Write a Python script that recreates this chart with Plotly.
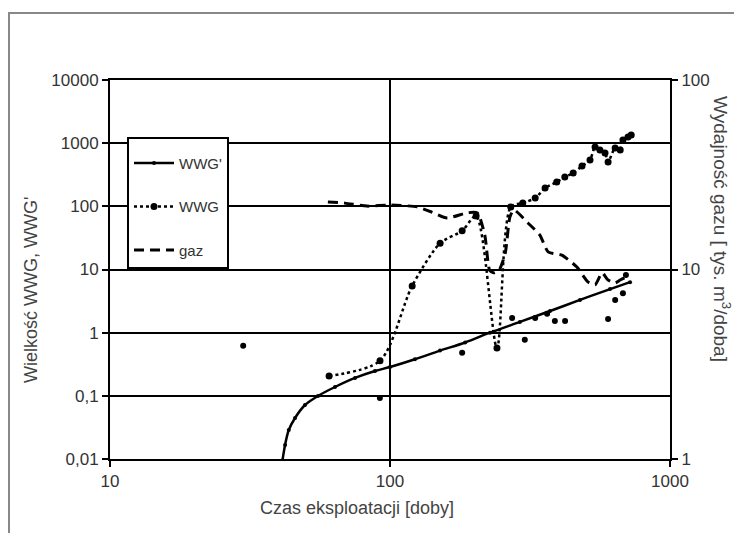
import plotly.graph_objects as go

# ---- data ----
wwgp_t = [41.3, 42.2, 43.5, 45.8, 49.7, 55.3, 63.6, 75.0, 88.4, 100, 122.7, 150.9, 185.5, 227.6, 291, 373, 477, 611, 720]
wwgp_v = [0.0095, 0.0167, 0.0288, 0.0446, 0.0716, 0.0995, 0.138, 0.192, 0.247, 0.286, 0.38, 0.52, 0.70, 1.0, 1.48, 2.2, 3.3, 4.9, 6.3]

wwg_t = [60.6, 92.1, 120, 151, 181, 203, 241, 270, 298, 330, 358, 394, 421, 451, 485, 518, 540, 562, 586, 601, 637, 664, 679, 708, 727]
wwg_v = [0.206, 0.36, 5.5, 26, 41, 70, 0.57, 98, 113, 135, 195, 243, 291, 337, 436, 542, 870, 780, 700, 504, 840, 780, 1120, 1250, 1346]

pts_t = [29.9, 92, 181, 273, 303, 330, 364, 388, 422, 601, 637, 679, 696]
pts_v = [0.62, 0.092, 0.48, 1.7, 0.77, 1.7, 2.0, 1.53, 1.53, 1.64, 3.3, 4.2, 8.2]

gaz_t = [60, 69, 82.8, 100, 125, 141, 160, 188, 205, 218, 227, 235, 245, 258, 268, 277, 311, 343, 367, 411, 465, 509, 540, 572, 601, 637, 664, 696]
gaz_v = [22.7, 22.4, 21.6, 21.9, 21.4, 20.1, 18.7, 19.9, 19.9, 15.2, 9.9, 9.6, 9.9, 12.2, 18.9, 20.6, 17.6, 15.2, 12.4, 11.9, 10.3, 8.6, 8.3, 9.6, 8.8, 8.5, 8.8, 9.1]

y_ticks = [0.01, 0.1, 1, 10, 100, 1000, 10000]
y_ticktext = ["0,01", "0,1", "1", "10", "100", "1000", "10000"]
y2_ticks = [1, 10, 100]
y2_ticktext = ["1", "10", "100"]
x_ticks = [10, 100, 1000]
x_ticktext = ["10", "100", "1000"]

FONT = "Liberation Sans, Arial, sans-serif"
TXT = "#333333"

# page has an 8px body margin: figure origin sits at page (8, 8)
OFF = 8
PL, PT, PW, PH = 110 - OFF, 80 - OFF, 560, 379   # plot area in figure pixels


def px(xp):   # page x pixel -> paper x
    return (xp - OFF - PL) / PW


def py(yp):   # page y pixel -> paper y
    return (PT + PH - (yp - OFF)) / PH


fig = go.Figure()

fig.add_trace(go.Scatter(
    x=wwgp_t, y=wwgp_v, name="WWG'", legendgroup="a",
    mode="lines+markers", line=dict(color="black", width=2.5, shape="spline"),
    marker=dict(color="black", size=4),
))
fig.add_trace(go.Scatter(
    x=wwg_t, y=wwg_v, name="WWG", legendgroup="b",
    mode="lines+markers", line=dict(color="black", width=2.5, dash="dot", shape="spline", smoothing=0.8),
    marker=dict(color="black", size=7),
))
fig.add_trace(go.Scatter(
    x=pts_t, y=pts_v, name="WWG (pkt)", legendgroup="b", showlegend=False,
    mode="markers", marker=dict(color="black", size=6),
))
fig.add_trace(go.Scatter(
    x=gaz_t, y=gaz_v, name="gaz", legendgroup="c", yaxis="y2",
    mode="lines", line=dict(color="black", width=3, dash="10px,6px", shape="spline", smoothing=0.6),
))

fig.update_layout(
    width=742 - OFF, height=533 - OFF,
    margin=dict(l=PL, r=742 - OFF - PL - PW, t=PT, b=533 - OFF - PT - PH),
    paper_bgcolor="white", plot_bgcolor="white",
    font=dict(family=FONT, color=TXT, size=16),
    xaxis=dict(
        type="log", range=[1, 3], tickvals=x_ticks, ticktext=x_ticktext,
        showgrid=True, gridcolor="black", gridwidth=2,
        showline=True, linecolor="black", linewidth=2, mirror=True,
        ticks="outside", ticklen=6, tickcolor="black", tickwidth=2,
        tickfont=dict(size=17, color=TXT), zeroline=False,
    ),
    yaxis=dict(
        type="log", range=[-2, 4], tickvals=y_ticks, ticktext=y_ticktext,
        showgrid=True, gridcolor="black", gridwidth=2,
        showline=True, linecolor="black", linewidth=2,
        ticks="outside", ticklen=6, tickcolor="black", tickwidth=2,
        tickfont=dict(size=17, color=TXT), zeroline=False,
    ),
    yaxis2=dict(
        type="log", range=[0, 2], tickvals=y2_ticks, ticktext=y2_ticktext,
        overlaying="y", side="right", showgrid=False,
        showline=True, linecolor="black", linewidth=2,
        ticks="outside", ticklen=6, tickcolor="black", tickwidth=2,
        tickfont=dict(size=17, color=TXT), zeroline=False,
    ),
    legend=dict(
        x=px(127), y=py(137), xanchor="left", yanchor="top",
        bgcolor="white", bordercolor="black", borderwidth=2,
        font=dict(family=FONT, size=15, color=TXT),
        tracegroupgap=21, traceorder="grouped", itemwidth=40,
        title=dict(text=" ", font=dict(size=6)),
    ),
    showlegend=True,
)

fig.add_annotation(text="Czas eksploatacji [doby]", xref="paper", yref="paper",
                   x=px(357), y=py(508), showarrow=False,
                   font=dict(size=18, color="#444444"), xanchor="center", yanchor="middle")
fig.add_annotation(text="Wielkość WWG, WWG'", xref="paper", yref="paper",
                   x=px(31), y=py(290), showarrow=False, textangle=-90,
                   font=dict(size=18, color="#444444"), xanchor="center", yanchor="middle")
fig.add_annotation(text="Wydajność gazu [ tys. m<sup>3</sup>/doba]", xref="paper", yref="paper",
                   x=px(722), y=py(229), showarrow=False, textangle=90,
                   font=dict(size=19, color="#444444"), xanchor="center", yanchor="middle")

# outer grey frame
fig.add_shape(type="rect", xref="paper", yref="paper",
              x0=px(9), x1=px(760), y0=py(550), y1=py(13),
              line=dict(color="#888888", width=2), fillcolor="rgba(0,0,0,0)", layer="below")

fig.write_html("out.html")
